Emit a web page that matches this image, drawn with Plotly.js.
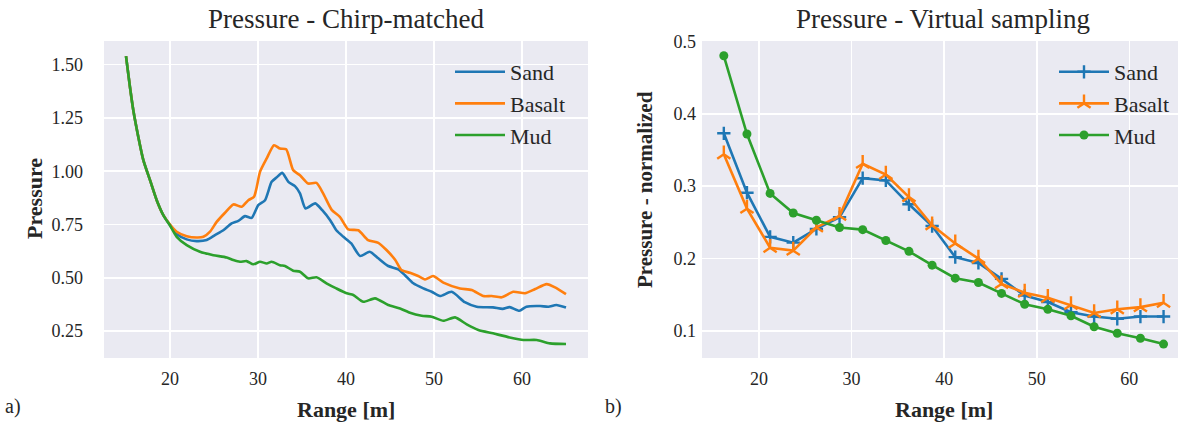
<!DOCTYPE html>
<html>
<head>
<meta charset="utf-8">
<script src="https://cdn.plot.ly/plotly-3.0.1.min.js"></script>
<style>
html,body{margin:0;padding:0;background:#fff;}
#chart{width:1178px;height:423px;}
</style>
</head>
<body>
<div id="chart"></div>
<script>
// ---- Panel a) Pressure - Chirp-matched ----
const sandRangeA = [15.0, 15.45, 15.83, 16.4, 16.97, 17.73, 18.49, 19.24, 20.0, 20.76, 21.9, 23.03, 24.17, 25.11, 26.06, 27.0, 27.77, 28.52, 29.28, 30.03, 30.8, 31.55, 32.1, 32.75, 33.45, 34.2, 34.77, 35.4, 36.5, 37.3, 38.2, 38.9, 39.7, 40.6, 41.6, 42.7, 43.67, 44.8, 45.94, 46.7, 47.65, 48.79, 49.74, 50.68, 52.0, 53.5, 54.85, 56.7, 57.8, 58.6, 59.7, 60.5, 62.05, 63.0, 63.9, 65.0];
const sandPressA = [1.54, 1.395, 1.286, 1.161, 1.052, 0.958, 0.864, 0.794, 0.747, 0.705, 0.680, 0.672, 0.677, 0.700, 0.723, 0.755, 0.767, 0.789, 0.781, 0.841, 0.864, 0.950, 0.970, 0.992, 0.950, 0.930, 0.896, 0.825, 0.849, 0.817, 0.770, 0.723, 0.692, 0.661, 0.602, 0.622, 0.591, 0.555, 0.539, 0.512, 0.474, 0.450, 0.434, 0.414, 0.434, 0.385, 0.364, 0.361, 0.354, 0.362, 0.345, 0.364, 0.367, 0.364, 0.372, 0.360];

const basaltRangeA = [15.0, 15.45, 15.83, 16.4, 16.97, 17.73, 18.49, 19.24, 20.0, 20.76, 21.9, 23.03, 23.8, 24.55, 25.3, 26.25, 27.2, 28.15, 28.9, 29.55, 30.23, 30.99, 31.82, 32.5, 33.2, 34.0, 34.77, 35.7, 36.65, 37.4, 38.4, 39.3, 40.26, 41.4, 42.5, 43.67, 44.6, 45.6, 46.3, 47.27, 48.2, 48.98, 49.9, 51.06, 52.95, 54.28, 55.6, 56.56, 57.7, 59.0, 60.34, 61.5, 62.8, 63.75, 65.0];
const basaltPressA = [1.54, 1.395, 1.286, 1.161, 1.052, 0.958, 0.864, 0.794, 0.750, 0.716, 0.695, 0.689, 0.692, 0.716, 0.762, 0.805, 0.844, 0.833, 0.864, 0.880, 0.997, 1.060, 1.122, 1.106, 1.103, 1.005, 0.981, 0.942, 0.945, 0.896, 0.817, 0.786, 0.727, 0.723, 0.677, 0.664, 0.630, 0.583, 0.536, 0.523, 0.508, 0.492, 0.508, 0.477, 0.450, 0.442, 0.414, 0.414, 0.408, 0.434, 0.427, 0.447, 0.470, 0.455, 0.423];

const mudRangeA = [15.0, 15.45, 15.83, 16.4, 16.97, 17.73, 18.49, 19.24, 20.0, 20.76, 21.9, 23.41, 24.92, 26.44, 27.2, 27.95, 28.7, 29.47, 30.23, 30.99, 31.55, 32.5, 33.07, 34.0, 34.77, 35.7, 36.65, 37.78, 38.9, 40.08, 40.83, 41.97, 43.3, 44.8, 46.14, 47.27, 48.6, 49.74, 51.06, 52.39, 53.72, 55.04, 56.7, 58.6, 60.15, 61.67, 63.18, 65.0];
const mudPressA = [1.54, 1.395, 1.286, 1.161, 1.052, 0.958, 0.864, 0.794, 0.745, 0.692, 0.653, 0.622, 0.606, 0.595, 0.583, 0.575, 0.578, 0.563, 0.575, 0.567, 0.575, 0.559, 0.555, 0.533, 0.528, 0.497, 0.502, 0.474, 0.450, 0.427, 0.419, 0.387, 0.403, 0.372, 0.356, 0.336, 0.322, 0.317, 0.298, 0.314, 0.281, 0.255, 0.239, 0.220, 0.208, 0.208, 0.192, 0.189];

// ---- Panel b) Pressure - Virtual sampling ----
const rangeB = [16.2, 18.7, 21.2, 23.7, 26.2, 28.7, 31.2, 33.7, 36.2, 38.7, 41.2, 43.7, 46.2, 48.7, 51.2, 53.7, 56.2, 58.7, 61.2, 63.7];
const sandB = [0.373, 0.291, 0.230, 0.222, 0.241, 0.257, 0.311, 0.308, 0.275, 0.245, 0.202, 0.194, 0.172, 0.149, 0.140, 0.126, 0.120, 0.117, 0.120, 0.120];
const basaltB = [0.344, 0.269, 0.215, 0.211, 0.243, 0.259, 0.331, 0.316, 0.285, 0.246, 0.221, 0.200, 0.165, 0.153, 0.146, 0.136, 0.125, 0.130, 0.133, 0.139];
const mudB = [0.480, 0.372, 0.290, 0.263, 0.253, 0.243, 0.240, 0.225, 0.210, 0.191, 0.173, 0.167, 0.152, 0.137, 0.130, 0.121, 0.106, 0.097, 0.090, 0.082];

const seriesNames = ["Sand", "Basalt", "Mud"];
const yTicksA = [0.25, 0.50, 0.75, 1.00, 1.25, 1.50];
const yTicksB = [0.1, 0.2, 0.3, 0.4, 0.5];
const xTicks = [20, 30, 40, 50, 60];

const C = ["#1f77b4", "#ff7f0e", "#2ca02c"];
const FONT = "Liberation Serif, Times New Roman, serif";
const TXT = "#262626";
const LW = 2.6;

const traces = [
  {x: sandRangeA, y: sandPressA, name: seriesNames[0], mode: "lines", line: {color: C[0], width: LW, shape: "spline", smoothing: 0.6}, xaxis: "x", yaxis: "y", legend: "legend", legendgroup: "a1"},
  {x: basaltRangeA, y: basaltPressA, name: seriesNames[1], mode: "lines", line: {color: C[1], width: LW, shape: "spline", smoothing: 0.6}, xaxis: "x", yaxis: "y", legend: "legend", legendgroup: "a2"},
  {x: mudRangeA, y: mudPressA, name: seriesNames[2], mode: "lines", line: {color: C[2], width: LW, shape: "spline", smoothing: 0.6}, xaxis: "x", yaxis: "y", legend: "legend", legendgroup: "a3"},
  {x: rangeB, y: sandB, name: seriesNames[0], mode: "lines+markers", line: {color: C[0], width: LW}, marker: {symbol: "cross-thin", size: 9.5, color: C[0], line: {color: C[0], width: 2.4}}, xaxis: "x2", yaxis: "y2", legend: "legend2", legendgroup: "b1"},
  {x: rangeB, y: basaltB, name: seriesNames[1], mode: "lines+markers", line: {color: C[1], width: LW}, marker: {symbol: "y-up", size: 11, color: C[1], line: {color: C[1], width: 2.4}}, xaxis: "x2", yaxis: "y2", legend: "legend2", legendgroup: "b2"},
  {x: rangeB, y: mudB, name: seriesNames[2], mode: "lines+markers", line: {color: C[2], width: LW}, marker: {symbol: "circle", size: 9, color: C[2]}, xaxis: "x2", yaxis: "y2", legend: "legend2", legendgroup: "b3"}
];

const W = 1178, H = 423;
const px = v => v / W;
const py = v => 1 - v / H;

const axCommon = {
  showline: false, zeroline: false, showgrid: true,
  gridcolor: "#ffffff", gridwidth: 1.6,
  ticks: "", tickfont: {family: FONT, size: 18, color: TXT},
  fixedrange: true
};

const layout = {
  width: W, height: H,
  margin: {l: 0, r: 0, t: 0, b: 0},
  paper_bgcolor: "#ffffff",
  plot_bgcolor: "#eaeaf2",
  showlegend: true,
  xaxis: Object.assign({}, axCommon, {domain: [px(104), px(588)], range: [12.5, 67.5], tickvals: xTicks, ticklabelstandoff: 8, anchor: "y"}),
  yaxis: Object.assign({}, axCommon, {domain: [py(358), py(41)], range: [0.1233, 1.611], tickvals: yTicksA, tickformat: ".2f", ticklabelstandoff: 20, anchor: "x"}),
  xaxis2: Object.assign({}, axCommon, {domain: [px(702), 1], range: [13.843, 65.26], tickvals: xTicks, ticklabelstandoff: 8, anchor: "y2"}),
  yaxis2: Object.assign({}, axCommon, {domain: [py(358), py(41)], range: [0.0628, 0.5004], tickvals: yTicksB, tickformat: ".1f", ticklabelstandoff: 5, anchor: "x2"}),
  legend: {x: px(450), y: py(51), xanchor: "left", yanchor: "top", bgcolor: "rgba(0,0,0,0)", borderwidth: 0, font: {family: FONT, size: 22, color: TXT}, tracegroupgap: 0, itemwidth: 50},
  legend2: {x: px(1054), y: py(51), xanchor: "left", yanchor: "top", bgcolor: "rgba(0,0,0,0)", borderwidth: 0, font: {family: FONT, size: 22, color: TXT}, tracegroupgap: 0, itemwidth: 50},
  annotations: [
    {text: "Pressure - Chirp-matched", x: px(346), y: py(19), xref: "paper", yref: "paper", xanchor: "center", yanchor: "middle", showarrow: false, font: {family: FONT, size: 27, color: TXT}},
    {text: "Pressure - Virtual sampling", x: px(943), y: py(19), xref: "paper", yref: "paper", xanchor: "center", yanchor: "middle", showarrow: false, font: {family: FONT, size: 27, color: TXT}},
    {text: "<b>Range [m]</b>", x: px(346), y: py(409), xref: "paper", yref: "paper", xanchor: "center", yanchor: "middle", showarrow: false, font: {family: FONT, size: 22, color: TXT}},
    {text: "<b>Range [m]</b>", x: px(944), y: py(409), xref: "paper", yref: "paper", xanchor: "center", yanchor: "middle", showarrow: false, font: {family: FONT, size: 22, color: TXT}},
    {text: "<b>Pressure</b>", x: px(34), y: py(199), xref: "paper", yref: "paper", xanchor: "center", yanchor: "middle", textangle: -90, showarrow: false, font: {family: FONT, size: 22, color: TXT}},
    {text: "<b>Pressure - normalized</b>", x: px(645), y: py(190), xref: "paper", yref: "paper", xanchor: "center", yanchor: "middle", textangle: -90, showarrow: false, font: {family: FONT, size: 21, color: TXT}},
    {text: "a)", x: px(13), y: py(406), xref: "paper", yref: "paper", xanchor: "center", yanchor: "middle", showarrow: false, font: {family: FONT, size: 20, color: TXT}},
    {text: "b)", x: px(613), y: py(406), xref: "paper", yref: "paper", xanchor: "center", yanchor: "middle", showarrow: false, font: {family: FONT, size: 20, color: TXT}}
  ]
};

Plotly.newPlot("chart", traces, layout, {displayModeBar: false, staticPlot: true});
</script>
</body>
</html>
